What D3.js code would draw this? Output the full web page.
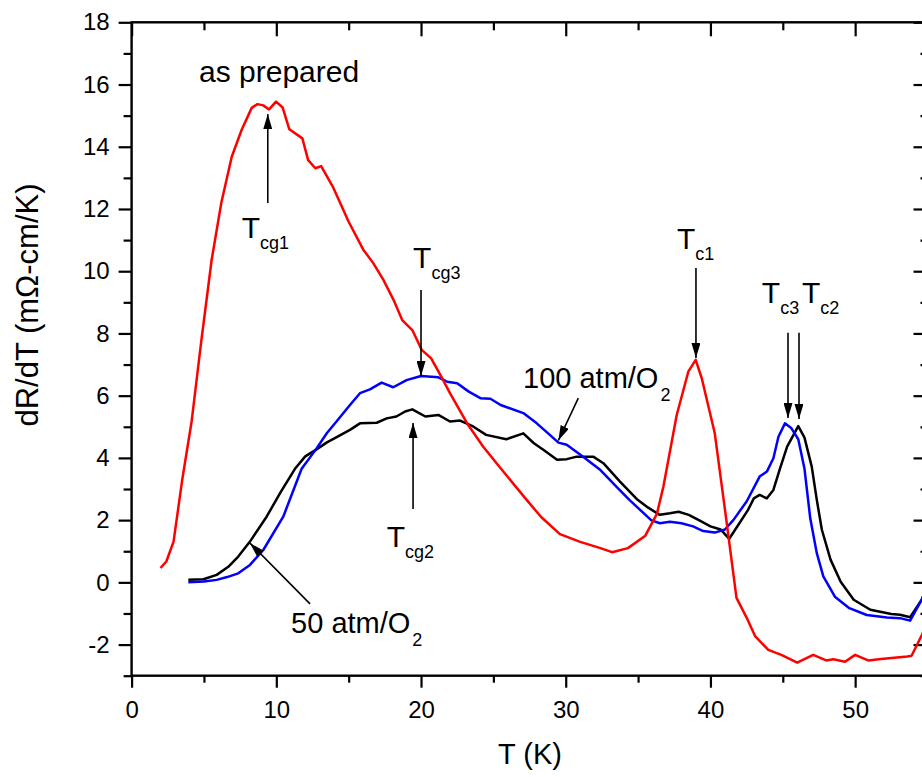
<!DOCTYPE html>
<html>
<head>
<meta charset="utf-8">
<script src="https://cdn.jsdelivr.net/npm/d3@7"></script>
<style>
  body { margin: 0; background: #fff; }
  svg { display: block; font-family: "Liberation Sans", Arial, sans-serif; }
  .axis text { font-size: 24px; fill: #000; }
  .axis line { stroke: #000; stroke-width: 2.2; }
</style>
</head>
<body>
<div id="chart"></div>
<script>
var width = 922;
var height = 777;

// as prepared (red)
var tPrepared = [2.0, 2.4, 2.9, 3.5, 4.15, 4.8, 5.53, 6.2, 6.92, 7.6, 8.3, 8.7, 9.1, 9.5, 9.98, 10.44, 10.9, 11.8, 12.2, 12.7, 13.1, 13.9, 15.0, 16.0, 16.7, 17.4, 18.1, 18.7, 19.4, 20.05, 20.7, 21.4, 22.0, 23.2, 24.3, 25.5, 27.3, 28.3, 29.6, 31.0, 32.4, 33.2, 34.3, 35.5, 36.3, 36.75, 37.67, 38.47, 38.98, 39.4, 40.3, 41.1, 41.8, 42.57, 43.1, 44.0, 44.9, 46.0, 47.1, 48.0, 48.5, 49.3, 50.0, 50.9, 51.8, 53.6, 53.9, 54.6, 55.0];
var dPrepared = [0.46, 0.67, 1.31, 3.3, 5.18, 7.7, 10.36, 12.2, 13.68, 14.54, 15.25, 15.37, 15.33, 15.2, 15.45, 15.26, 14.56, 14.27, 13.57, 13.31, 13.38, 12.72, 11.59, 10.7, 10.26, 9.72, 9.08, 8.43, 8.11, 7.47, 7.2, 6.61, 6.08, 5.1, 4.36, 3.67, 2.65, 2.1, 1.55, 1.3, 1.1, 0.97, 1.1, 1.5, 2.2, 3.08, 5.38, 6.77, 7.15, 6.56, 4.79, 2.0, -0.5, -1.2, -1.74, -2.17, -2.33, -2.58, -2.33, -2.51, -2.47, -2.55, -2.33, -2.51, -2.46, -2.38, -2.36, -1.7, -1.3];

// 100 atm/O2 (blue)
var t100 = [3.92, 5.0, 5.88, 6.6, 7.37, 8.18, 9.1, 10.48, 11.75, 12.7, 13.5, 14.3, 15.09, 15.78, 16.47, 17.28, 18.08, 19.0, 20.0, 21.2, 21.8, 22.5, 23.3, 24.1, 24.8, 25.5, 27.07, 28.0, 28.9, 29.5, 30.07, 31.2, 32.4, 33.5, 34.4, 35.9, 36.5, 37.2, 38.0, 38.8, 39.5, 40.3, 41.0, 41.58, 42.5, 43.4, 43.9, 44.35, 44.7, 45.15, 45.6, 46.07, 46.5, 46.9, 47.35, 47.8, 48.6, 49.6, 50.8, 52.2, 53.1, 53.8, 54.6, 55.0];
var d100 = [0.0, 0.03, 0.08, 0.17, 0.29, 0.56, 1.04, 2.11, 3.65, 4.25, 4.8, 5.25, 5.7, 6.08, 6.2, 6.42, 6.27, 6.5, 6.63, 6.59, 6.45, 6.4, 6.13, 5.92, 5.9, 5.7, 5.44, 5.11, 4.74, 4.49, 4.42, 4.04, 3.61, 3.08, 2.65, 2.0, 1.9, 1.95, 1.9, 1.8, 1.65, 1.6, 1.7, 2.0, 2.6, 3.4, 3.56, 3.99, 4.68, 5.11, 4.95, 4.6, 3.65, 2.05, 0.94, 0.19, -0.46, -0.83, -1.05, -1.13, -1.15, -1.23, -0.56, -0.1];

// 50 atm/O2 (black)
var t50 = [3.92, 4.96, 5.88, 6.68, 7.37, 8.18, 9.33, 10.3, 11.29, 12.0, 12.7, 13.5, 14.3, 15.09, 15.78, 16.94, 17.63, 18.3, 18.9, 19.4, 20.3, 21.2, 22.0, 22.7, 23.6, 24.5, 25.9, 27.07, 27.8, 28.45, 29.4, 30.07, 30.76, 31.9, 32.6, 33.75, 34.9, 35.7, 36.5, 37.2, 37.8, 38.5, 39.2, 40.0, 40.7, 41.3, 42.0, 42.6, 43.0, 43.4, 43.9, 44.35, 44.8, 45.3, 46.07, 46.5, 47.0, 47.35, 47.7, 48.3, 49.0, 49.9, 51.05, 52.5, 53.1, 53.8, 54.6, 55.0];
var d50 = [0.08, 0.1, 0.24, 0.5, 0.83, 1.31, 2.11, 2.9, 3.65, 4.05, 4.25, 4.5, 4.7, 4.9, 5.11, 5.13, 5.27, 5.33, 5.49, 5.56, 5.33, 5.38, 5.17, 5.2, 5.01, 4.74, 4.6, 4.79, 4.47, 4.26, 3.94, 3.96, 4.04, 4.04, 3.83, 3.24, 2.68, 2.4, 2.17, 2.22, 2.27, 2.17, 2.0, 1.8, 1.7, 1.4, 1.9, 2.33, 2.7, 2.81, 2.7, 2.97, 3.65, 4.36, 5.02, 4.65, 3.72, 2.65, 1.69, 0.73, 0.02, -0.56, -0.88, -1.02, -1.04, -1.12, -0.56, -0.1];

var xMajor = [0, 10, 20, 30, 40, 50];
var xMinor = [5, 15, 25, 35, 45, 55];
var yMajor = [-2, 0, 2, 4, 6, 8, 10, 12, 14, 16, 18];
var yMinor = [-3, -1, 1, 3, 5, 7, 9, 11, 13, 15, 17];

var svg = d3.select("#chart")
    .append("svg")
    .attr("width", width)
    .attr("height", height);

svg.append("rect").attr("width", width).attr("height", height).attr("fill", "#fff");

var x = d3.scaleLinear().domain([0, 55]).range([131.6, 927.5]);
var y = d3.scaleLinear().domain([-3, 18]).range([675.7, 22.3]);

// plain hyphen for negatives, like the original
var fmt = function(d) { return String(d); };

function drawAxis(axis, tx, ty) {
    var g = svg.append("g").attr("class", "axis")
        .attr("transform", "translate(" + tx + "," + ty + ")")
        .call(axis);
    g.select(".domain").remove();
    return g;
}

drawAxis(d3.axisLeft(y).tickValues(yMajor).tickSize(13).tickPadding(9).tickFormat(fmt), x(0), 0);
drawAxis(d3.axisLeft(y).tickValues(yMinor).tickSize(8).tickFormat(""), x(0), 0);
drawAxis(d3.axisBottom(x).tickValues(xMajor).tickSize(12).tickPadding(13).tickFormat(fmt), 0, y(-3));
drawAxis(d3.axisBottom(x).tickValues(xMinor).tickSize(7).tickFormat(""), 0, y(-3));
drawAxis(d3.axisTop(x).tickValues(xMajor).tickSize(-14).tickFormat(""), 0, y(18));
drawAxis(d3.axisTop(x).tickValues(xMinor).tickSize(-8).tickFormat(""), 0, y(18));
drawAxis(d3.axisRight(y).tickValues(yMajor).tickSize(-14).tickFormat(""), x(55), 0);
drawAxis(d3.axisRight(y).tickValues(yMinor).tickSize(-7).tickFormat(""), x(55), 0);

// frame
svg.append("rect")
    .attr("x", x(0)).attr("y", y(18))
    .attr("width", x(55) - x(0)).attr("height", y(-3) - y(18))
    .attr("fill", "none").attr("stroke", "#000").attr("stroke-width", 2.4);

// curves
var line = d3.line()
    .x(function(d) { return x(d[0]); })
    .y(function(d) { return y(d[1]); });

var series = [
    {t: t50, v: d50, color: "#000000"},
    {t: t100, v: d100, color: "#0000ff"},
    {t: tPrepared, v: dPrepared, color: "#ff0000"}
];

series.forEach(function(s) {
    svg.append("path")
        .datum(d3.zip(s.t, s.v))
        .attr("d", line)
        .attr("fill", "none")
        .attr("stroke", s.color)
        .attr("stroke-width", 2.5)
        .attr("stroke-linejoin", "round");
});

// arrows
svg.append("defs").append("marker")
    .attr("id", "head")
    .attr("viewBox", "0 0 15 9")
    .attr("refX", 15).attr("refY", 4.5)
    .attr("markerWidth", 15).attr("markerHeight", 9)
    .attr("markerUnits", "userSpaceOnUse")
    .attr("orient", "auto")
    .append("path")
    .attr("d", "M0,0L15,4.5L0,9Z")
    .attr("fill", "#000");

var arrows = [
    [9.41, 12.19, 9.41, 15.05],
    [20.0, 9.4, 20.0, 6.63],
    [19.45, 2.36, 19.45, 5.12],
    [30.87, 5.92, 29.49, 4.56],
    [12.33, -0.69, 8.18, 1.26],
    [39.0, 10.1, 39.0, 7.21],
    [45.36, 8.02, 45.36, 5.28],
    [46.12, 8.02, 46.12, 5.25]
];

svg.selectAll(".arrow")
    .data(arrows)
    .enter()
    .append("line")
    .attr("class", "arrow")
    .attr("x1", function(d) { return x(d[0]); })
    .attr("y1", function(d) { return y(d[1]); })
    .attr("x2", function(d) { return x(d[2]); })
    .attr("y2", function(d) { return y(d[3]); })
    .attr("stroke", "#000")
    .attr("stroke-width", 1.6)
    .attr("marker-end", "url(#head)");

// T labels with subscripts
var tLabels = [
    ["cg1", 7.61, 11.07],
    ["cg3", 19.45, 10.1],
    ["cg2", 17.63, 1.14],
    ["c1", 37.69, 10.71],
    ["c3", 43.55, 8.98],
    ["c2", 46.33, 8.98]
];

tLabels.forEach(function(d) {
    var t = svg.append("text")
        .attr("x", x(d[1])).attr("y", y(d[2]))
        .attr("font-size", 30);
    t.append("tspan").text("T");
    t.append("tspan").attr("font-size", 18).attr("dy", 11).text(d[0]);
});

var gasLabels = [
    ["100 atm/O", 27.05, 6.24],
    ["50 atm/O", 11.02, -1.62]
];

gasLabels.forEach(function(d) {
    var t = svg.append("text")
        .attr("x", x(d[1])).attr("y", y(d[2]))
        .attr("font-size", 29);
    t.append("tspan").text(d[0]);
    t.append("tspan").attr("font-size", 18).attr("dx", 2).attr("dy", 13).text("2");
});

svg.append("text")
    .attr("x", x(4.66)).attr("y", y(16.08))
    .attr("font-size", 30)
    .text("as prepared");

// axis titles
svg.append("text")
    .attr("x", 530).attr("y", 764)
    .attr("text-anchor", "middle")
    .attr("font-size", 29)
    .text("T (K)");

svg.append("text")
    .attr("transform", "translate(38,305) rotate(-90)")
    .attr("text-anchor", "middle")
    .attr("font-size", 31)
    .text("dR/dT (m\u03A9-cm/K)");
</script>
</body>
</html>
